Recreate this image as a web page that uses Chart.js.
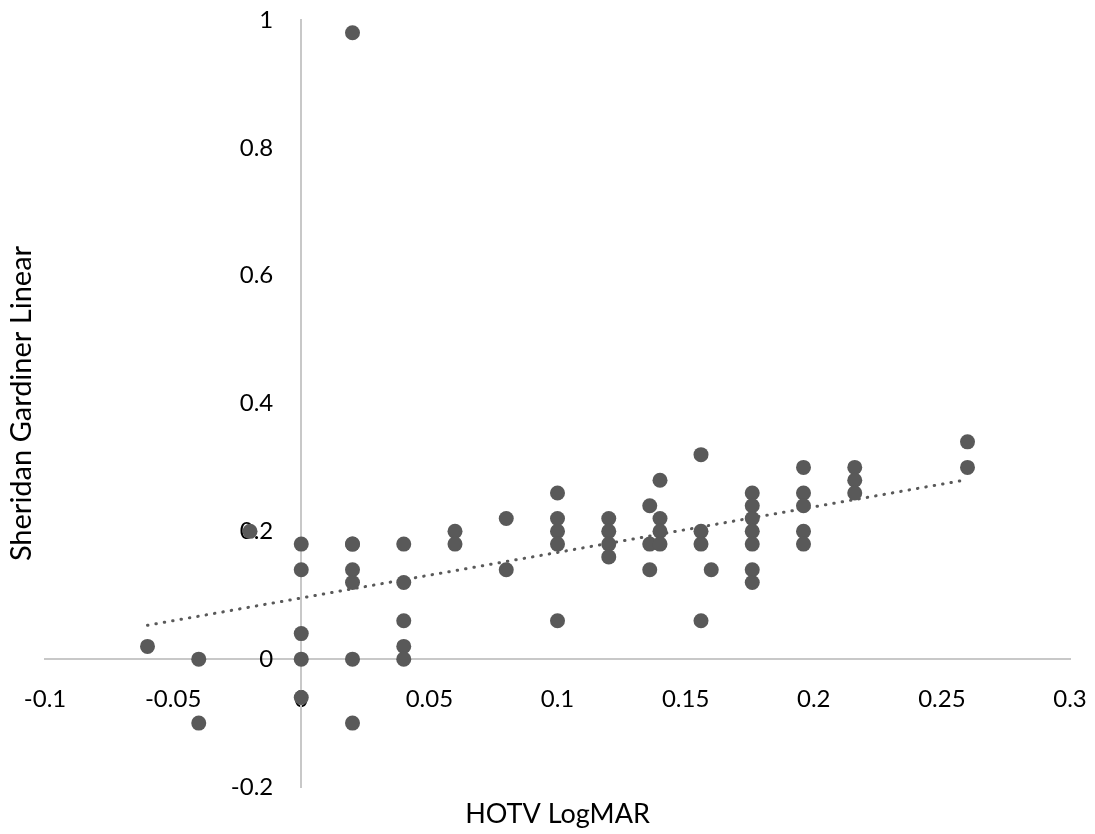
<!DOCTYPE html>
<html>
<head>
<meta charset="utf-8">
<script src="https://cdn.jsdelivr.net/npm/chart.js@4.4.0/dist/chart.umd.min.js"></script>
<style>
  body { margin: 0; background: #fff; }
  #wrap { width: 1095px; height: 834px; }
</style>
</head>
<body>
<div id="wrap"><canvas id="myChart" width="1095" height="834"></canvas></div>
<script>
// HOTV logMAR (x) vs Sheridan Gardiner linear (y)
var hotv = [
  -0.06, -0.04, -0.04, -0.02,
  0, 0, 0, 0, 0,
  0.02, 0.02, 0.02, 0.02, 0.02, 0.02, 0.02,
  0.04, 0.04, 0.04, 0.04, 0.04,
  0.06, 0.06,
  0.08, 0.08,
  0.1, 0.1, 0.1, 0.1, 0.1,
  0.12, 0.12, 0.12, 0.12,
  0.136, 0.136, 0.136,
  0.14, 0.14, 0.14, 0.14,
  0.156, 0.156, 0.156, 0.156,
  0.16,
  0.176, 0.176, 0.176, 0.176, 0.176, 0.176, 0.176,
  0.196, 0.196, 0.196, 0.196, 0.196,
  0.216, 0.216, 0.216,
  0.26, 0.26
];
var sheridan = [
  0.02, 0, -0.1, 0.2,
  0.18, 0.14, 0.04, 0, -0.06,
  0.98, 0.18, 0.18, 0.14, 0.12, 0, -0.1,
  0.18, 0.12, 0.06, 0.02, 0,
  0.2, 0.18,
  0.22, 0.14,
  0.26, 0.22, 0.2, 0.18, 0.06,
  0.22, 0.2, 0.18, 0.16,
  0.24, 0.18, 0.14,
  0.28, 0.22, 0.2, 0.18,
  0.32, 0.2, 0.18, 0.06,
  0.14,
  0.26, 0.24, 0.22, 0.2, 0.18, 0.14, 0.12,
  0.3, 0.26, 0.24, 0.2, 0.18,
  0.3, 0.28, 0.26,
  0.34, 0.3
];
// linear trendline ends
var trendX = [-0.06, 0.26];
var trendY = [0.053, 0.281];

var xTickLabels = ['-0.1', '-0.05', '0', '0.05', '0.1', '0.15', '0.2', '0.25', '0.3'];
var yTickLabels = ['-0.2', '0', '0.2', '0.4', '0.6', '0.8', '1'];

var xTitle = 'HOTV LogMAR';
var yTitle = 'Sheridan Gardiner Linear';

var points = [];
for (var i = 0; i < hotv.length; i++) {
  points.push({x: hotv[i], y: sheridan[i]});
}
var trend = [];
for (var j = 0; j < trendX.length; j++) {
  trend.push({x: trendX[j], y: trendY[j]});
}

var fontFam = "Lato, 'Open Sans', sans-serif";

// axis titles are drawn outside the centred axes
var titles = {
  id: 'titles',
  beforeDraw: function(chart) {
    // centred y axis puts its labels right on the line, push them left a bit
    var items = chart.scales.y.getLabelItems();
    if (!chart._ylabShifted) {
      items.forEach(function(it) { it.options.translation[0] -= 28; });
      chart._ylabShifted = true;
    }
  },
  afterDraw: function(chart) {
    var c = chart.ctx, a = chart.chartArea;
    c.save();
    c.fillStyle = '#000';
    c.textAlign = 'center';
    c.textBaseline = 'middle';
    c.font = '27px ' + fontFam;
    c.fillText(xTitle, (a.left + a.right) / 2, 814);
    c.translate(22, (a.top + a.bottom) / 2);
    c.rotate(-Math.PI / 2);
    c.font = '29px ' + fontFam;
    c.fillText(yTitle, 0, 0);
    c.restore();
  }
};

new Chart(document.getElementById('myChart'), {
  type: 'scatter',
  data: {
    datasets: [{
      label: 'data',
      data: points,
      pointRadius: 7.5,
      pointHoverRadius: 7.5,
      pointBackgroundColor: '#595959',
      pointBorderWidth: 0,
      order: 1
    }, {
      label: 'trend',
      type: 'line',
      data: trend,
      showLine: true,
      borderColor: '#595959',
      borderWidth: 3,
      borderDash: [0.5, 8],
      borderCapStyle: 'round',
      pointRadius: 0,
      fill: false,
      order: 2
    }]
  },
  options: {
    responsive: false,
    animation: false,
    layout: { padding: { left: 45, right: 25, top: 20, bottom: 47 } },
    plugins: {
      legend: { display: false },
      tooltip: { enabled: false }
    },
    scales: {
      x: {
        type: 'linear',
        position: { y: 0 },
        min: -0.1,
        max: 0.3,
        grid: { display: false },
        border: { display: true, color: '#c8c8c8', width: 2 },
        afterFit: function(s) { s.height = 0; s.paddingLeft = 0; s.paddingRight = 0; },
        ticks: {
          stepSize: 0.05,
          padding: 18,
          color: '#000',
          font: { family: fontFam, size: 24 },
          maxRotation: 0,
          autoSkip: false,
          callback: function(v, i) { return xTickLabels[i]; }
        }
      },
      y: {
        type: 'linear',
        position: { x: 0 },
        min: -0.2,
        max: 1,
        grid: { display: false },
        border: { display: true, color: '#c8c8c8', width: 2 },
        afterFit: function(s) { s.width = 0; s.paddingTop = 0; s.paddingBottom = 0; },
        ticks: {
          stepSize: 0.2,
          color: '#000',
          font: { family: fontFam, size: 24 },
          autoSkip: false,
          callback: function(v, i) { return yTickLabels[i]; }
        }
      }
    }
  },
  plugins: [titles]
});
</script>
</body>
</html>
